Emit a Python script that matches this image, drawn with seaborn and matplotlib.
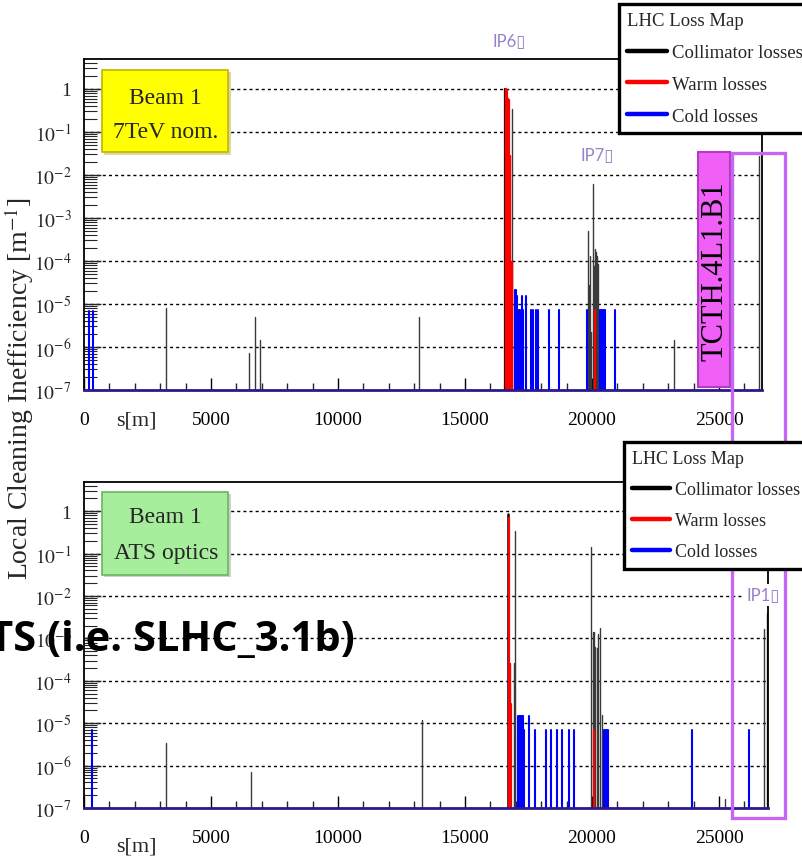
import numpy as np
import pandas as pd
import matplotlib
matplotlib.use("Agg")
import matplotlib.pyplot as plt
import seaborn as sns
from matplotlib.lines import Line2D
from matplotlib.patches import Rectangle
from matplotlib.ticker import LogLocator, MultipleLocator, FuncFormatter, NullFormatter

# ---------------- data: beam 1, 7 TeV nominal optics ----------------
nom_coll_s = [3230, 6500, 6730, 6930, 13190, 16575, 16840, 19830, 19894, 19933, 19972,
              20026, 20079, 20131, 20171, 20210, 20249, 23228, 26575]
nom_coll_v = [8e-6, 7.2e-7, 5e-6, 1.45e-6, 5e-6, 1.0, 0.34, 5.1e-4, 2.7e-5, 1.3e-4, 2.2e-6,
              6.2e-3, 7.8e-5, 1.9e-4, 1.6e-4, 1.3e-4, 8.5e-5, 1.45e-6, 0.028]
nom_warm_s = [16605, 16630, 16655, 16685, 16710, 16735, 16765, 16790, 16815, 16840, 16865, 20105]
nom_warm_v = [1.0, 0.98, 0.96, 0.59, 0.57, 0.55, 0.028, 0.027, 9.5e-5, 9.5e-5, 9.5e-5, 7.2e-6]
nom_cold_s = [210, 340, 16982, 17021, 17061, 17100, 17140, 17180, 17231, 17270, 17402, 17611,
              17664, 17808, 17887, 18307, 18687, 19790, 20300, 20340, 20380, 20420, 20460,
              20500, 20906]
nom_cold_v = [6.9e-6, 6.9e-6, 2.1e-5, 2.1e-5, 1.5e-5, 7.2e-6, 7.2e-6, 7.2e-6, 1.5e-5, 7.2e-6,
              1.5e-5, 7.2e-6, 7.2e-6, 7.2e-6, 7.2e-6, 7.2e-6, 7.2e-6, 7.2e-6, 7.2e-6, 7.2e-6,
              7.2e-6, 7.2e-6, 7.2e-6, 7.2e-6, 7.2e-6]

# ---------------- data: beam 1, ATS optics ----------------
ats_coll_s = [3228, 6575, 13295, 16706, 16940, 16968, 19975, 20026, 20079, 20118, 20184,
              20249, 20315, 20381, 20420, 25236, 26784, 26877]
ats_coll_v = [3.5e-6, 6.9e-7, 1.2e-5, 0.85, 2.7e-4, 0.34, 0.14, 1.4e-3, 1.4e-3, 6.3e-4, 6e-4,
              1.3e-3, 1.8e-3, 1.6e-5, 2e-6, 1.6e-7, 1.65e-3, 3.9e-3]
ats_warm_s = [16740, 16760, 16780, 16800, 20065]
ats_warm_v = [0.7, 2.5e-4, 2.5e-4, 2.8e-5, 7e-6]
ats_cold_s = [303, 17074, 17100, 17126, 17150, 17175, 17200, 17225, 17244, 17297, 17336,
              17520, 17756, 18177, 18399, 18622, 18819, 19094, 19304, 20485, 20525, 20565,
              20605, 20640, 23925, 26193]
ats_cold_v = [7e-6, 6.9e-6, 1.5e-5, 1.5e-5, 1.5e-5, 1.5e-5, 1.5e-5, 1.5e-5, 1.5e-5, 1.5e-5,
              6.9e-6, 1.5e-5, 6.9e-6, 6.9e-6, 6.9e-6, 6.9e-6, 6.9e-6, 6.9e-6, 6.9e-6, 7e-6,
              7e-6, 7e-6, 7e-6, 7e-6, 6.9e-6, 6.9e-6]

legend_title = "LHC Loss Map"
legend_labels = ["Collimator losses", "Warm losses", "Cold losses"]
x_ticks = [0, 5000, 10000, 15000, 20000, 25000]
y_decades = [1e-7, 1e-6, 1e-5, 1e-4, 1e-3, 1e-2, 1e-1, 1]

COLORS = {"coll": "#3a3a3a", "warm": "#ff0000", "cold": "#0000ff"}
FLOOR = 1e-9

sns.set_theme(style="ticks")
plt.rcParams["font.family"] = ["Liberation Serif", "DejaVu Serif"]
plt.rcParams["mathtext.fontset"] = "stix"

W, H = 802, 862
fig = plt.figure(figsize=(W / 100, H / 100), dpi=100)


def fx(x):
    return x / W


def fy(y):
    return 1 - y / H


def frect(x0, y0, x1, y1, **kw):
    return Rectangle((fx(x0), fy(y1)), (x1 - x0) / W, (y1 - y0) / H,
                     transform=fig.transFigure, **kw)


def spikes(ax, s, v, color, lw):
    n = len(s)
    df = pd.DataFrame({
        "s": np.repeat(s, 2),
        "v": np.ravel(np.column_stack([np.full(n, FLOOR), v])),
        "id": np.repeat(np.arange(n), 2),
    })
    sns.lineplot(data=df, x="s", y="v", units="id", estimator=None, sort=False,
                 color=color, lw=lw, ax=ax, legend=False)


def ylab(v, pos):
    if v >= 0.99:
        return "1"
    return r"$10^{%d}$" % int(round(np.log10(v)))


def style_axis(ax, xmax, ytop_dec):
    ax.set_yscale("log")
    ax.set_xlim(0, xmax)
    ax.set_ylim(1e-7, 10 ** ytop_dec)
    ax.xaxis.set_major_locator(MultipleLocator(5000))
    ax.xaxis.set_minor_locator(MultipleLocator(1000))
    ax.set_xticks(x_ticks)
    ax.yaxis.set_major_locator(LogLocator(base=10, numticks=20))
    ax.yaxis.set_minor_locator(LogLocator(base=10, subs=np.arange(2, 10), numticks=20))
    ax.yaxis.set_major_formatter(FuncFormatter(ylab))
    ax.yaxis.set_minor_formatter(NullFormatter())
    ax.set_yticks(y_decades)
    ax.yaxis.grid(True, which="major", linestyle=(0, (2.2, 2.2)), color="black", lw=1.0)
    ax.tick_params(axis="x", which="major", direction="in", length=9, width=1,
                   labelsize=14, pad=15, colors="black")
    ax.tick_params(axis="x", which="minor", direction="in", length=5, width=1)
    ax.tick_params(axis="y", which="major", direction="in", length=12, width=1,
                   labelsize=14, pad=9)
    ax.tick_params(axis="y", which="minor", direction="in", length=9, width=0.8)
    for side in ["top", "right", "left"]:
        ax.spines[side].set_color("black")
        ax.spines[side].set_linewidth(1.3)
    ax.spines["bottom"].set_color("#2c1a8c")
    ax.spines["bottom"].set_linewidth(2.0)
    ax.set_ylabel("")
    ax.set_xlabel("s[m]", fontsize=16)
    ax.xaxis.label.set_va("top")


def draw_panel(ax, coll_s, coll_v, warm_s, warm_v, cold_s, cold_v):
    ax.set_yscale("log")
    spikes(ax, coll_s, coll_v, COLORS["coll"], 1.0)
    spikes(ax, warm_s, warm_v, COLORS["warm"], 1.6)
    spikes(ax, cold_s, cold_v, COLORS["cold"], 1.5)


# ---------------- panels ----------------
ax1 = fig.add_axes([fx(84), fy(391), (762 - 84) / W, 331 / H])
draw_panel(ax1, nom_coll_s, nom_coll_v, nom_warm_s, nom_warm_v, nom_cold_s, nom_cold_v)
style_axis(ax1, 678 / 0.0254, 331 / 43.0 - 7)
ax1.xaxis.set_label_coords(0.077, -0.062)

ax2 = fig.add_axes([fx(84), fy(809), (768 - 84) / W, 326 / H])
draw_panel(ax2, ats_coll_s, ats_coll_v, ats_warm_s, ats_warm_v, ats_cold_s, ats_cold_v)
style_axis(ax2, 684 / 0.0254, 326 / 42.4 - 7)
ax2.xaxis.set_label_coords(0.077, -0.088)

# primary collimator line drawn in pure black next to the red cluster
ax1.get_lines()[5].set_color("black")
ax1.get_lines()[5].set_linewidth(1.6)
ax2.get_lines()[3].set_color("black")
ax2.get_lines()[3].set_linewidth(1.8)

# ---------------- shared y label ----------------
fig.text(fx(19), fy(389), r"Local Cleaning Inefficiency [m$^{-1}$]", rotation=90,
         ha="center", va="center", fontsize=20)

# ---------------- beam boxes ----------------
fig.add_artist(frect(104, 73, 231, 156, facecolor="#9c9000", edgecolor="none", alpha=0.35))
fig.add_artist(frect(102, 71, 228, 153, facecolor="#ffff00", edgecolor="#c4b400", lw=1.2))
fig.text(fx(165), fy(98), "Beam 1", ha="center", va="center", fontsize=17)
fig.text(fx(166), fy(133), "7TeV nom.", ha="center", va="center", fontsize=17)

fig.add_artist(frect(104, 495, 231, 578, facecolor="#5a8a50", edgecolor="none", alpha=0.35))
fig.add_artist(frect(102, 493, 228, 576, facecolor="#a6ee9c", edgecolor="#6cb464", lw=1.2))
fig.text(fx(165), fy(518), "Beam 1", ha="center", va="center", fontsize=17)
fig.text(fx(166), fy(553), "ATS optics", ha="center", va="center", fontsize=17)

# ---------------- IP markers ----------------
ip_font = ["Lato", "DejaVu Sans"]
ip_color = "#9a80c6"
fig.text(fx(509), fy(42), "IP6\u25af", ha="center", va="center", fontsize=12,
         color=ip_color, family=ip_font)
fig.text(fx(597), fy(156), "IP7\u25af", ha="center", va="center", fontsize=12,
         color=ip_color, family=ip_font)
fig.text(fx(763), fy(596), "IP1\u25af", ha="center", va="center", fontsize=12,
         color=ip_color, family=ip_font,
         bbox=dict(facecolor="white", edgecolor="none", pad=2))

# ---------------- TCT highlight ----------------
fig.add_artist(frect(698, 153, 730, 388, facecolor="#f060f6", edgecolor="#b43cc4", lw=1.5))
fig.text(fx(715), fy(271), "TCTH.4L1.B1", rotation=90, ha="center", va="center",
         fontsize=22, color="black")
fig.add_artist(frect(732, 154, 785, 819, facecolor="none", edgecolor="#c766f5", lw=2.4,
                     zorder=3))

# ---------------- title overlay ----------------
fig.text(fx(355), fy(641), "TS (i.e. SLHC_3.1b)", ha="right", va="center", fontsize=30,
         fontweight="bold", family=["Open Sans", "DejaVu Sans"], color="black",
         zorder=6)

# ---------------- legends ----------------
handles = [Line2D([], [], color="black", lw=3.2),
           Line2D([], [], color="red", lw=3.2),
           Line2D([], [], color="blue", lw=3.2)]
for x0, y0, fs, hl in [(619, 5, 13.5, 2.1), (624, 443, 13.0, 2.1)]:
    leg = fig.legend(handles, legend_labels, title=legend_title, loc="upper left",
                     bbox_to_anchor=(fx(x0), fy(y0)), bbox_transform=fig.transFigure,
                     frameon=True, fancybox=False, edgecolor="black", framealpha=1,
                     fontsize=fs, title_fontsize=fs, alignment="left",
                     handlelength=hl, handletextpad=0.25, borderpad=0.45,
                     labelspacing=0.78, borderaxespad=0)
    leg.get_frame().set_linewidth(2.4)
    leg.set_zorder(8)

fig.savefig("out.png", dpi=100)
